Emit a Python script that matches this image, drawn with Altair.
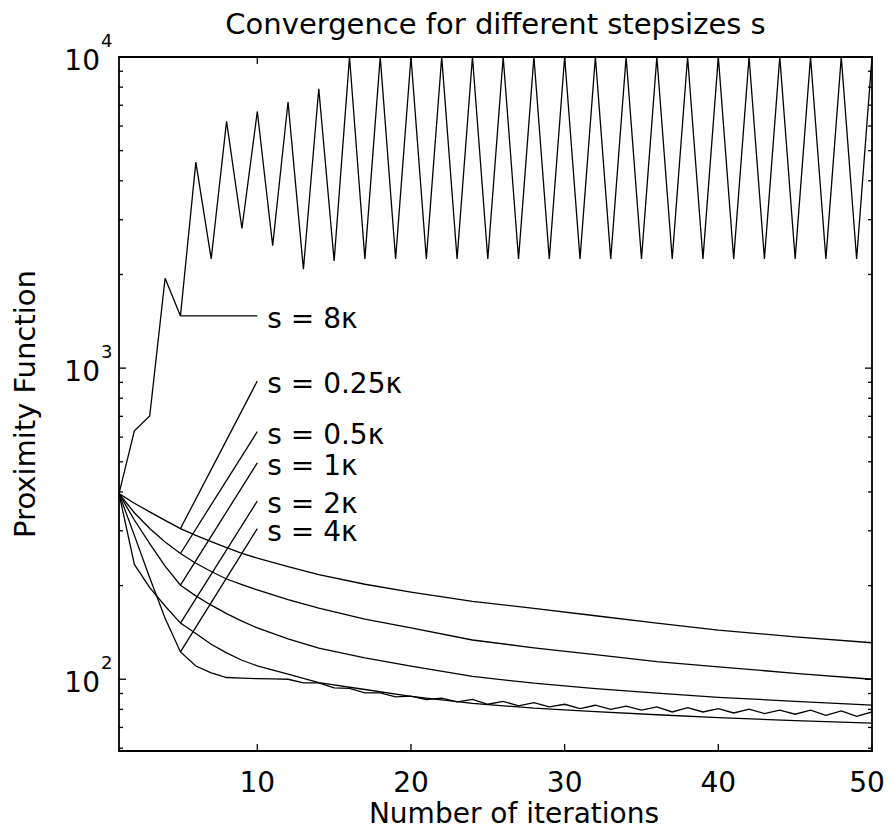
import altair as alt
import pandas as pd

# ---------------- data ----------------
iters_all = list(range(1, 51))

s8 = [395, 629, 702, 1945, 1472, 4594, 2244, 6208, 2811, 6683,
      2477, 7165, 2080, 7907, 2212, 10000, 2244, 10000, 2244, 10000,
      2244, 10000, 2244, 10000, 2244, 10000, 2244, 10000, 2244, 10000,
      2244, 10000, 2244, 10000, 2244, 10000, 2244, 10000, 2244, 10000,
      2244, 10000, 2244, 10000, 2244, 10000, 2244, 10000, 2244, 10000]

s4 = [395, 290, 212, 157, 122.4, 110.3, 104.8, 101.3, 100.8, 100.5,
      100.3, 100.0, 97.3, 97.3, 93.8, 93.4, 90.4, 90.4, 87.8, 88.2,
      86.1, 86.9, 84.6, 86.1, 83.1, 84.9, 82.1, 84.1, 81.5, 83.1,
      80.5, 82.5, 80.0, 81.9, 79.6, 81.5, 78.5, 81.1, 78.5, 80.5,
      77.9, 80.2, 77.6, 79.6, 77.2, 79.6, 76.6, 79.1, 76.0, 78.5]

iters_smooth = [1, 2, 3, 4, 5, 6, 7, 8, 9, 10, 12, 14, 17, 20, 24, 28, 32, 36, 40, 45, 50]
s025 = [395, 368, 345, 324, 305, 290, 277, 265, 254, 245, 230, 217, 202, 190.5, 178, 169, 160, 151.4, 143.9, 136.8, 131]
s05 = [395, 343, 305, 276, 253.6, 236, 222, 210, 201.4, 193.6, 180.3, 169.4, 156, 146.2, 133.7, 126.2, 120, 114, 109.6, 104.5, 100]
s1 = [395, 325, 273, 231, 200.6, 185.4, 173, 162.6, 153.8, 146.2, 134.9, 125.9, 117.2, 110.2, 102.1, 97.1, 93.3, 90.2, 87.5, 84.9, 82.6]
s2 = [395, 234, 197, 172, 151.5, 140.3, 129.6, 121.5, 115.1, 110.4, 103.8, 97.6, 92.7, 88.1, 83.7, 80.7, 78.7, 76.9, 75.3, 73.6, 72.3]

# annotation labels and their leader lines (from iteration 5 to iteration 10)
label_text = ["s = 8\u03ba", "s = 0.25\u03ba", "s = 0.5\u03ba", "s = 1\u03ba", "s = 2\u03ba", "s = 4\u03ba"]
leader_from_iter = [5, 5, 5, 5, 5, 5]
leader_from_val = [1472, 305, 253.6, 200.6, 151.5, 122.4]
leader_to_iter = [10, 10, 10, 10, 10, 10]
leader_to_val = [1472, 909, 625, 496, 374, 305]

x_ticks = [10, 20, 30, 40, 50]
y_major = [100, 1000, 10000]
y_exponents = ["2", "3", "4"]
y_minor = [60, 70, 80, 90, 200, 300, 400, 500, 600, 700, 800, 900,
           2000, 3000, 4000, 5000, 6000, 7000, 8000, 9000]

title_text = "Convergence for different stepsizes s"
x_title = "Number of iterations"
y_title = "Proximity Function"

# ---------------- build tables ----------------
rows = []
for name, xs_, vs_ in [("8", iters_all, s8), ("4", iters_all, s4), ("0.25", iters_smooth, s025),
                       ("0.5", iters_smooth, s05), ("1", iters_smooth, s1), ("2", iters_smooth, s2)]:
    for i, v in zip(xs_, vs_):
        rows.append({"iter": i, "value": v, "series": name})
df = pd.DataFrame(rows)

lead = pd.DataFrame({"x0": leader_from_iter, "y0": leader_from_val,
                     "x1": leader_to_iter, "y1": leader_to_val, "label": label_text})
xt = pd.DataFrame({"v": x_ticks, "t": [str(v) for v in x_ticks]})
xt_inner = xt[xt["v"] < 50]
xt_last = xt[xt["v"] == 50]
ymaj = pd.DataFrame({"v": y_major, "e": y_exponents})
ymin = pd.DataFrame({"v": y_minor})

W, H = 753, 694
FONT = "DejaVu Sans"
xs = alt.Scale(domain=[1, 50], nice=False, zero=False)
ys = alt.Scale(type="log", domain=[58.8, 10000], nice=False)

X = lambda f: alt.X(f, type="quantitative", scale=xs, axis=None)
Y = lambda f: alt.Y(f, type="quantitative", scale=ys, axis=None)

lines = alt.Chart(df).mark_line(color="black", strokeWidth=1.3, clip=True).encode(
    x=X("iter"), y=Y("value"), detail="series:N", order="iter:Q")

leaders = alt.Chart(lead).mark_rule(color="black", strokeWidth=1.3).encode(
    x=X("x0"), y=Y("y0"), x2="x1:Q", y2="y1:Q")

labels = alt.Chart(lead).mark_text(align="left", baseline="alphabetic", dx=10, dy=12,
                                   fontSize=28, font=FONT, color="black").encode(
    x=X("x1"), y=Y("y1"), text="label:N")

tick_style = dict(color="black", strokeWidth=1.3)
lt_major = alt.Chart(ymaj).mark_rule(**tick_style).encode(y=Y("v"), x=alt.value(0), x2=alt.value(7))
lt_minor = alt.Chart(ymin).mark_rule(**tick_style).encode(y=Y("v"), x=alt.value(0), x2=alt.value(4))
rt_major = alt.Chart(ymaj).mark_rule(**tick_style).encode(y=Y("v"), x=alt.value(W - 7), x2=alt.value(W))
rt_minor = alt.Chart(ymin).mark_rule(**tick_style).encode(y=Y("v"), x=alt.value(W - 4), x2=alt.value(W))
bt = alt.Chart(xt).mark_rule(**tick_style).encode(x=X("v"), y=alt.value(H - 7), y2=alt.value(H))
tp = alt.Chart(xt).mark_rule(**tick_style).encode(x=X("v"), y=alt.value(0), y2=alt.value(7))

xlab = alt.Chart(xt_inner).mark_text(align="center", baseline="alphabetic", fontSize=28, font=FONT,
                                     color="black").encode(x=X("v"), y=alt.value(H + 41), text="t:N")
xlab_last = alt.Chart(xt_last).mark_text(align="center", baseline="alphabetic", dx=-5, fontSize=28,
                                         font=FONT, color="black").encode(
    x=X("v"), y=alt.value(H + 41), text="t:N")
ylab = alt.Chart(ymaj).mark_text(align="right", baseline="alphabetic", dy=13, fontSize=28, font=FONT,
                                 color="black").encode(y=Y("v"), x=alt.value(-19), text=alt.value("10"))
yexp = alt.Chart(ymaj).mark_text(align="left", baseline="alphabetic", dy=-10, fontSize=18, font=FONT,
                                 color="black").encode(y=Y("v"), x=alt.value(-18), text="e:N")

ttl = alt.Chart(pd.DataFrame({"t": [title_text]})).mark_text(
    align="center", baseline="alphabetic", fontSize=29, font=FONT, color="black").encode(
    x=alt.value(W / 2), y=alt.value(-23), text="t:N")
xttl = alt.Chart(pd.DataFrame({"t": [x_title]})).mark_text(
    align="center", baseline="alphabetic", fontSize=28, font=FONT, color="black").encode(
    x=alt.value(395), y=alt.value(H + 72), text="t:N")
yttl = alt.Chart(pd.DataFrame({"t": [y_title]})).mark_text(
    align="center", baseline="alphabetic", angle=270, fontSize=29, font=FONT, color="black").encode(
    x=alt.value(-84), y=alt.value(H / 2), text="t:N")

chart = alt.layer(lines, leaders, labels, lt_major, lt_minor, rt_major, rt_minor, bt, tp,
                  xlab, xlab_last, ylab, yexp, ttl, xttl, yttl).properties(
    width=W, height=H,
    padding={"left": 111, "top": 49, "right": 13, "bottom": 79},
    autosize=alt.AutoSizeParams(type="none"),
    background="white",
).configure_view(stroke="black", strokeWidth=1.8)

chart.save("out.html", embed_options={"renderer": "svg", "actions": False})
